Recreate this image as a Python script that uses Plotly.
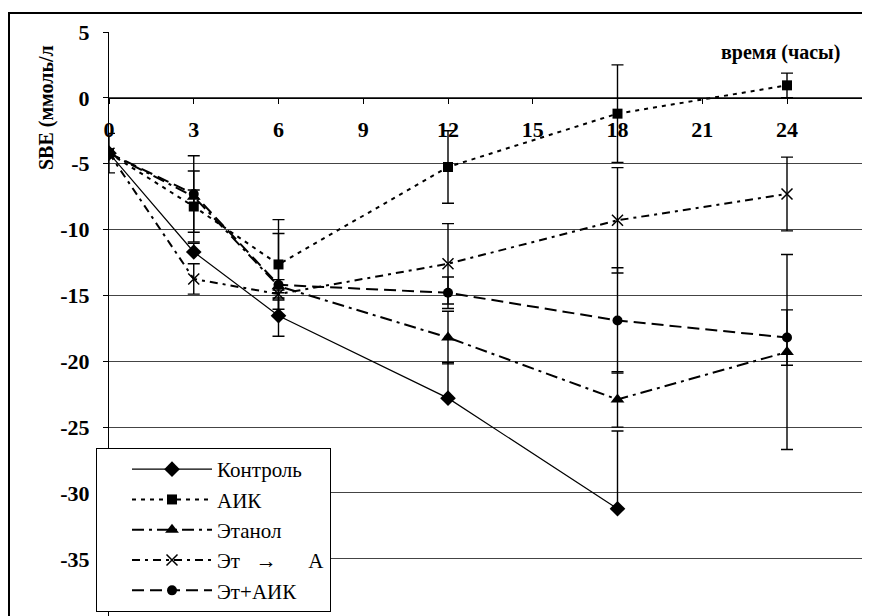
import plotly.graph_objects as go

# ---- data ----
hours = [0, 3, 6, 12, 18, 24]
hours_control = [0, 3, 6, 12, 18]

control = [-4.2, -11.7, -16.55, -22.8, -31.2]
control_err_plus = [1.5, 0.65, 1.2, 2.7, 5.9]
control_err_minus = [1.5, 0, 0, 0, 0]

aik = [-4.2, -8.25, -12.65, -5.25, -1.2, 0.95]
aik_err = [0, 2.7, 3.4, 2.75, 3.7, 0.93]

ethanol = [-4.2, -7.5, -14.3, -18.2, -22.9, -19.3]
ethanol_err = [0, 0.5, 0.5, 2.0, 2.1, 7.4]

et_a = [-4.2, -13.75, -14.9, -12.6, -9.3, -7.3]
et_a_err = [0, 1.15, 0.3, 3.05, 4.0, 2.8]

et_aik = [-4.2, -7.3, -14.2, -14.8, -16.9, -18.2]
et_aik_err = [0, 2.9, 3.9, 1.2, 4.0, 2.1]

names = ["Контроль", "АИК", "Этанол",
         "Эт\u00a0\u00a0\u00a0→\u00a0\u00a0\u00a0\u00a0\u00a0\u00a0А", "Эт+АИК"]

x_ticks = [0, 3, 6, 9, 12, 15, 18, 21, 24]
x_ticktext = ["0", "3", "6", "9", "12", "15", "18", "21", "24"]
y_ticks = [5, 0, -5, -10, -15, -20, -25, -30, -35]
y_ticktext = ["5", "0", "-5", "-10", "-15", "-20", "-25", "-30", "-35"]

y_title = "SBE (ммоль/л"
x_title = "время (часы)"

# ---- figure ----
SERIF = "Liberation Serif, Times New Roman, serif"
fig = go.Figure()

def eb(arr, minus=None):
    d = dict(type="data", array=arr, color="black", thickness=1.4, width=6, visible=True)
    if minus is not None:
        d["symmetric"] = False
        d["arrayminus"] = minus
    return d

fig.add_trace(go.Scatter(
    x=hours_control, y=control, name=names[0], legendgroup="g1",
    mode="lines+markers",
    line=dict(color="black", width=1.2),
    marker=dict(symbol="diamond", size=12, color="black"),
    error_y=eb(control_err_plus, control_err_minus),
))
fig.add_trace(go.Scatter(
    x=hours, y=aik, name=names[1], legendgroup="g2",
    mode="lines+markers",
    line=dict(color="black", width=2, dash="4px,5px"),
    marker=dict(symbol="square", size=10, color="black"),
    error_y=eb(aik_err),
))
fig.add_trace(go.Scatter(
    x=hours, y=ethanol, name=names[2], legendgroup="g3",
    mode="lines+markers",
    line=dict(color="black", width=2, dash="12px,5px,3px,5px"),
    marker=dict(symbol="triangle-up", size=12, color="black"),
    error_y=eb(ethanol_err),
))
fig.add_trace(go.Scatter(
    x=hours, y=et_a, name=names[3], legendgroup="g4",
    mode="lines+markers",
    line=dict(color="black", width=2, dash="8px,5px,3px,5px"),
    marker=dict(symbol="x-thin-open", size=11, color="black",
                line=dict(color="black", width=1.5)),
    error_y=eb(et_a_err),
))
fig.add_trace(go.Scatter(
    x=hours, y=et_aik, name=names[4], legendgroup="g5",
    mode="lines+markers",
    line=dict(color="black", width=2, dash="12px,6px"),
    marker=dict(symbol="circle", size=10, color="black"),
    error_y=eb(et_aik_err),
))

# page body adds an 8px offset; work in reference pixel coordinates
OFF = 8
W, H = 870 - OFF, 616 - OFF
L, T = 109 - OFF, 32 - OFF
pw, ph = W - L, H - T
px_per_x = 28.25
px_per_y = 13.17
x_max = pw / px_per_x
y_min = 5 - ph / px_per_y
y0_pos = (0 - y_min) / (5 - y_min)

def px2paper_x(px):
    return (px - OFF - L) / pw

def px2paper_y(py):
    return 1 - (py - OFF - T) / ph

fig.update_layout(
    width=W, height=H,
    margin=dict(l=L, r=0, t=T, b=0, autoexpand=False),
    plot_bgcolor="white", paper_bgcolor="white",
    showlegend=True,
    legend=dict(
        x=px2paper_x(96), y=px2paper_y(448), xanchor="left", yanchor="top",
        bgcolor="white", bordercolor="black", borderwidth=1,
        font=dict(family=SERIF, size=21, color="black"),
        tracegroupgap=0, itemwidth=80, indentation=30,
    ),
    xaxis=dict(
        range=[0, x_max], tickmode="array", tickvals=x_ticks, ticktext=x_ticktext,
        showgrid=False, zeroline=False, showline=True, linecolor="black", linewidth=1,
        ticks="outside", ticklen=5, tickcolor="black",
        tickfont=dict(family=SERIF, size=22, color="black", weight="bold"),
        anchor="free", position=y0_pos, ticklabelstandoff=7, automargin=False,
    ),
    yaxis=dict(
        range=[y_min, 5], tickmode="array", tickvals=y_ticks, ticktext=y_ticktext,
        showgrid=True, gridcolor="#444444", gridwidth=1, zeroline=False,
        showline=True, linecolor="black", linewidth=1,
        ticks="outside", ticklen=5, tickcolor="black",
        tickfont=dict(family=SERIF, size=22, color="black", weight="bold"),
        ticklabelstandoff=9, automargin=False,
    ),
    annotations=[
        dict(text=y_title, xref="paper", yref="paper", x=px2paper_x(46), y=px2paper_y(107),
             textangle=-90, showarrow=False, xanchor="center", yanchor="middle",
             font=dict(family=SERIF, size=20, color="black", weight="bold")),
        dict(text=x_title, xref="paper", yref="paper", x=px2paper_x(780), y=px2paper_y(52),
             showarrow=False, xanchor="center", yanchor="middle",
             font=dict(family=SERIF, size=20, color="black", weight="bold")),
        dict(text="27", xref="paper", yref="paper", x=px2paper_x(873), y=px2paper_y(128),
             showarrow=False, xanchor="center", yanchor="middle",
             font=dict(family=SERIF, size=22, color="black", weight="bold")),
    ],
    shapes=[
        dict(type="rect", xref="paper", yref="paper",
             x0=px2paper_x(9), x1=px2paper_x(880), y0=px2paper_y(630), y1=px2paper_y(13),
             line=dict(color="black", width=2), fillcolor="rgba(0,0,0,0)", layer="above"),
    ],
)

fig.write_html("out.html")
